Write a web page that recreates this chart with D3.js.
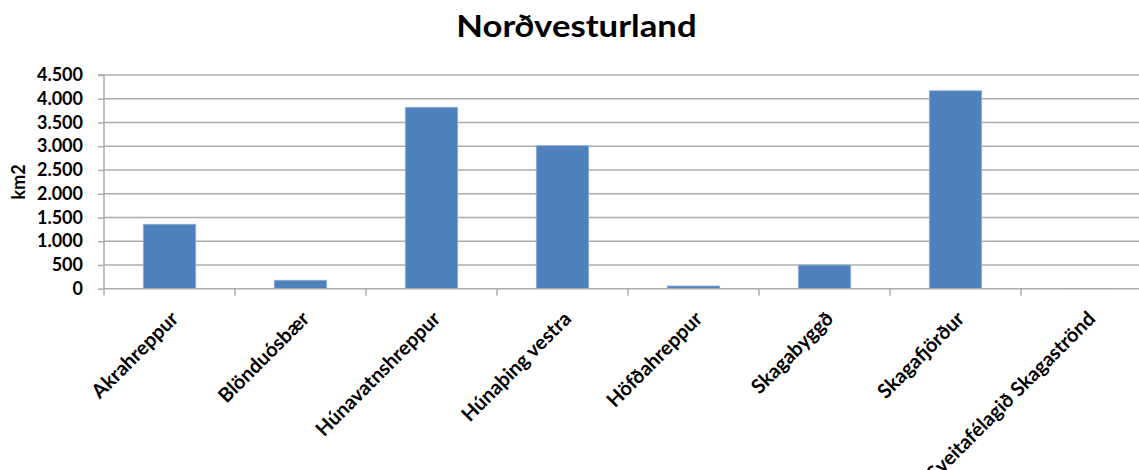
<!DOCTYPE html>
<html>
<head>
<meta charset="utf-8">
<script src="https://cdn.jsdelivr.net/npm/d3@7"></script>
<style>
  html, body { margin: 0; padding: 0; background: #fff; }
  svg { display: block; }
  text { font-family: Lato, "Open Sans", sans-serif; font-weight: bold; fill: #000; }
</style>
</head>
<body>
<svg id="chart" width="1139" height="470"></svg>
<script>
const title = "Norðvesturland";
const yAxisLabel = "km2";
const categories = ["Akrahreppur", "Blönduósbær", "Húnavatnshreppur", "Húnaþing vestra", "Höfðahreppur", "Skagabyggð", "Skagafjörður", "Sveitafélagið Skagaströnd"];
const values = [1357, 178, 3820, 3011, 57, 497, 4168, 3];
const yTicks = [0, 500, 1000, 1500, 2000, 2500, 3000, 3500, 4000, 4500];

const svg = d3.select("#chart");
const pLeft = 104, pTop = 75, pBottom = 288.7, step = 131;
const x = d3.scaleBand().domain(categories).range([pLeft, pLeft + step * categories.length]).padding(0);
const y = d3.scaleLinear().domain([0, 4500]).range([pBottom, pTop]);
const fmt = d3.formatLocale({ decimal: ",", thousands: ".", grouping: [3], currency: ["", ""] }).format(",d");

const grid = "#acacac";

// gridlines
svg.append("g").selectAll("line").data(yTicks.filter(d => d > 0)).join("line")
  .attr("x1", pLeft).attr("x2", x.range()[1])
  .attr("y1", d => y(d)).attr("y2", d => y(d))
  .attr("stroke", grid).attr("stroke-width", 1.5);

// bars
svg.append("g").selectAll("rect").data(values).join("rect")
  .attr("x", (d, i) => x(categories[i]) + x.bandwidth() * 0.3)
  .attr("width", x.bandwidth() * 0.4)
  .attr("y", d => y(d))
  .attr("height", d => y(0) - y(d))
  .attr("fill", "#4f81bd")
  .attr("stroke", "#8eaedb").attr("stroke-width", 0.8);

// y axis
const yAxis = d3.axisLeft(y).tickValues(yTicks).tickFormat(fmt).tickSize(6).tickPadding(15);
const gy = svg.append("g").attr("transform", `translate(${pLeft},0)`).call(yAxis);
gy.select(".domain").attr("stroke", grid).attr("stroke-width", 1.5).attr("d", `M-6,${pTop}H0V${pBottom}`);
gy.selectAll(".tick line").attr("stroke", grid).attr("stroke-width", 1.5);
gy.selectAll(".tick text").attr("font-size", 18).attr("font-family", "Lato, sans-serif").attr("font-weight", "bold").attr("fill", "#000");

// x axis
const xAxis = d3.axisBottom(x).tickValues([]).tickSize(0);
const gx = svg.append("g").attr("transform", `translate(0,${pBottom})`).call(xAxis);
gx.select(".domain").attr("stroke", grid).attr("stroke-width", 1.5).attr("d", `M${pLeft},0H${x.range()[1]}`);
gx.selectAll(".sep").data(categories).join("line").attr("class", "sep")
  .attr("x1", d => x(d) + x.bandwidth()).attr("x2", d => x(d) + x.bandwidth())
  .attr("y1", 0).attr("y2", 7).attr("stroke", grid).attr("stroke-width", 1.5);
gx.append("line").attr("x1", pLeft).attr("x2", pLeft).attr("y1", 0).attr("y2", 7).attr("stroke", grid).attr("stroke-width", 1.5);

// x labels
svg.append("g").selectAll("text").data(categories).join("text")
  .attr("transform", d => `translate(${x(d) + x.bandwidth() / 2 + 10},320) rotate(-45)`)
  .attr("text-anchor", "end")
  .attr("font-size", 20)
  .text(d => d);

// y label
svg.append("text")
  .attr("transform", `translate(25,${(pTop + pBottom) / 2}) rotate(-90)`)
  .attr("text-anchor", "middle")
  .attr("font-size", 18)
  .text(yAxisLabel);

// title
svg.append("text")
  .attr("transform", "translate(576.5,37) scale(1.12,1)")
  .attr("text-anchor", "middle")
  .attr("font-size", 31)
  .text(title);
</script>
</body>
</html>
